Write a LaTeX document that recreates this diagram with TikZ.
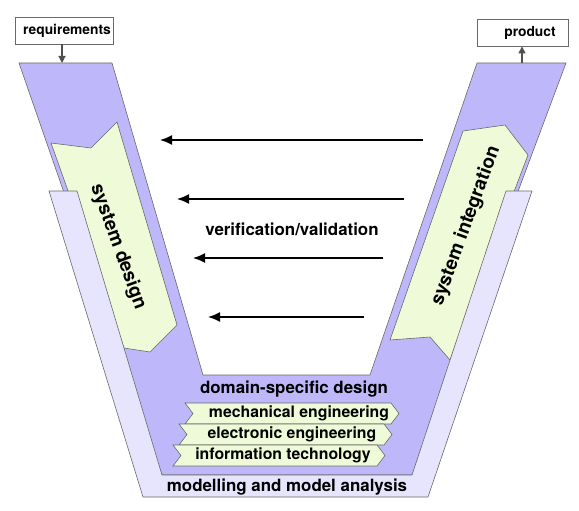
\documentclass[tikz,border=0pt]{standalone}
\usepackage{fontspec}
\setmainfont{TeX Gyre Heros}
\usetikzlibrary{arrows.meta}
\definecolor{darkv}{RGB}{190,184,250}
\definecolor{lightv}{RGB}{230,229,253}
\definecolor{paleg}{RGB}{239,251,216}
\definecolor{edgec}{RGB}{105,105,105}
\definecolor{tipc}{RGB}{80,80,80}
\tikzset{
  shapeline/.style={draw=edgec, line width=0.6pt, line join=miter},
  vbody/.style={shapeline, fill=darkv},
  vframe/.style={shapeline, fill=lightv},
  phase/.style={shapeline, fill=paleg},
  ioBox/.style={draw=edgec, fill=white, line width=0.8pt, minimum width=#1, minimum height=27pt, inner sep=0pt},
  ioArrow/.style={draw=tipc, line width=1.2pt, -{Triangle[length=7pt,width=7pt]}},
  fb/.style={draw=black, line width=1.6pt, -{Latex[length=12pt,width=10pt]}},
  lbl/.style={font=\bfseries\fontsize{16.9}{18}\selectfont, inner sep=0pt},
  sublbl/.style={font=\bfseries\fontsize{15.8}{17}\selectfont, inner sep=0pt},
  biglbl/.style={font=\bfseries\fontsize{19}{21}\selectfont, inner sep=0pt},
  smalllbl/.style={font=\bfseries\fontsize{13.8}{15}\selectfont, inner sep=0pt}
}
\begin{document}
\begin{tikzpicture}[x=1pt,y=-1pt]
\useasboundingbox (0,0) rectangle (579,511);
% main V body
\path[vbody] (19,63) -- (112,63) -- (203,375) -- (370,375) -- (477,63) -- (566,63) -- (412,475) -- (162,475) -- cycle;
% phase chevrons on arms
\path[phase] (51,143) -- (91,148) -- (117,122) -- (177,325) -- (150,352) -- (124,348) -- cycle;
\path[phase] (390,340) -- (430,337) -- (450,360) -- (528,155) -- (505,125) -- (463,131) -- cycle;
% modelling frame
\path[vframe] (49,191) -- (143,497) -- (428,497) -- (532,191) -- (506,191) -- (412,475) -- (162,475) -- (77,191) -- cycle;
% domain chevrons
\path[phase] (185,403) -- (391,403) -- (399,413.5) -- (391,424) -- (185,424) -- (193,413.5) -- cycle;
\path[phase] (179,424) -- (384,424) -- (392,434.5) -- (384,445) -- (179,445) -- (187,434.5) -- cycle;
\path[phase] (173,445) -- (377,445) -- (385,455.5) -- (377,466) -- (173,466) -- (181,455.5) -- cycle;
% input / output
\node[ioBox=98pt] (req) at (64,30.5) {};
\node[smalllbl] (reqt) at (67,31) {requirements};
\node[ioBox=91pt] (prod) at (522.5,32.5) {};
\node[smalllbl] (prodt) at (530,33) {product};
\coordinate (reqin) at (62,63);
\coordinate (prodout) at (522,63);
\draw[ioArrow] (req.south -| reqin) -- (reqin);
\draw[ioArrow] (prodout) -- (prod.south -| prodout);
% feedback arrows
\coordinate (a1s) at (423,140); \coordinate (a1e) at (160,140);
\coordinate (a2s) at (404,199); \coordinate (a2e) at (177,199);
\coordinate (a3s) at (383,258); \coordinate (a3e) at (193,258);
\coordinate (a4s) at (364,317); \coordinate (a4e) at (208,317);
\draw[fb] (a1s) -- (a1e);
\draw[fb] (a2s) -- (a2e);
\draw[fb] (a3s) -- (a3e);
\draw[fb] (a4s) -- (a4e);
% labels
\node[lbl] (vv) at (292,229) {verification/validation};
\node[biglbl, rotate=-70] (sd) at (118,247) {system design};
\node[biglbl, rotate=70] (si) at (466,226) {system integration};
\node[lbl] (dsd) at (294,389) {domain-specific design};
\node[sublbl] (me) at (299,413) {mechanical engineering};
\node[sublbl] (ee) at (292,434) {electronic engineering};
\node[sublbl] (it) at (283,455) {information technology};
\node[lbl] (mma) at (287,487) {modelling and model analysis};
\end{tikzpicture}
\end{document}
